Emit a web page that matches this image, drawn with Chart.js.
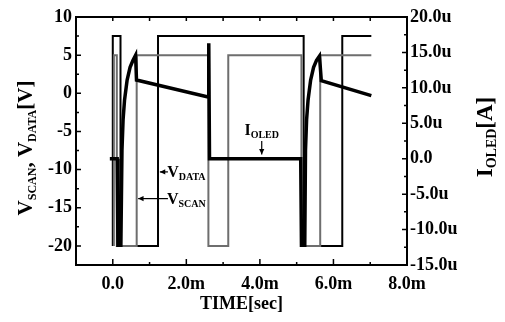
<!DOCTYPE html>
<html>
<head>
<meta charset="utf-8">
<script src="https://cdn.jsdelivr.net/npm/chart.js@4.4.1/dist/chart.umd.min.js"></script>
<style>
  html, body { margin: 0; padding: 0; background: #fff; }
  canvas { display: block; }
</style>
</head>
<body>
<canvas id="waveChart" width="505" height="322"></canvas>
<script>
// time in ms, voltages in V, current in uA
const vdataTime = [0, 0, 0.21, 0.21, 1.23, 1.23, 5.19, 5.19, 6.24, 6.24, 7.03];
const vdataVolt = [-20, 7.5, 7.5, -20, -20, 7.5, 7.5, -20, -20, 7.5, 7.5];

const vscanTime = [0.03, 0.03, 0.11, 0.11, 0.65, 0.65, 2.6, 2.6, 3.14, 3.14, 5.13, 5.13, 5.64, 5.64, 7.03];
const vscanVolt = [-20, 5, 5, -20, -20, 5, 5, -20, -20, 5, 5, -20, -20, 5, 5];

const ioledTime = [-0.08, 0.12, 0.14, 0.22, 0.25, 0.28, 0.32, 0.39, 0.47, 0.55, 0.62, 0.645, 2.59, 2.61, 2.63, 5.11, 5.13, 5.22, 5.24, 5.27, 5.31, 5.38, 5.46, 5.54, 5.62, 5.67, 7.03];
const ioledCurrent = [0.0, 0.0, -12.2, -12.2, 1.2, 5.5, 8.3, 11.1, 12.9, 13.9, 14.6, 11.1, 8.7, 16.3, 0.0, 0.0, -12.2, -12.2, 1.2, 5.5, 8.3, 11.1, 12.9, 13.9, 14.5, 11.0, 8.9];

const xTickValues = [0, 2, 4, 6, 8];
const vTickValues = [-20, -15, -10, -5, 0, 5, 10];
const iTickValues = [-15, -10, -5, 0, 5, 10, 15, 20];

const FONT = 'Liberation Serif';

function toPoints(xs, ys) {
    return xs.map((x, i) => ({ x: x, y: ys[i] }));
}

// draw text made of parts [text, size, shift-down]
function richText(ctx, parts, x, y) {
    let total = 0;
    parts.forEach(p => {
        ctx.font = 'bold ' + p[1] + 'px ' + FONT;
        total += ctx.measureText(p[0]).width;
    });
    let cx = x - total / 2;
    parts.forEach(p => {
        ctx.font = 'bold ' + p[1] + 'px ' + FONT;
        ctx.fillText(p[0], cx, y + p[2]);
        cx += ctx.measureText(p[0]).width;
    });
}

function arrow(ctx, x1, y1, x2, y2) {
    ctx.beginPath();
    ctx.moveTo(x1, y1);
    ctx.lineTo(x2, y2);
    ctx.stroke();
    const ang = Math.atan2(y2 - y1, x2 - x1);
    ctx.beginPath();
    ctx.moveTo(x2, y2);
    ctx.lineTo(x2 - 6 * Math.cos(ang - 0.45), y2 - 6 * Math.sin(ang - 0.45));
    ctx.lineTo(x2 - 6 * Math.cos(ang + 0.45), y2 - 6 * Math.sin(ang + 0.45));
    ctx.closePath();
    ctx.fill();
}

const framePlugin = {
    id: 'frame',
    afterDraw(chart) {
        const { ctx, chartArea: a, scales } = chart;
        const xs = scales.x, yv = scales.yV, yi = scales.yI;
        ctx.save();
        ctx.strokeStyle = '#000';
        ctx.fillStyle = '#000';

        // tick marks, pointing inward
        ctx.lineWidth = 1.5;
        ctx.beginPath();
        for (let v = -1; v <= 8; v++) {
            const px = xs.getPixelForValue(v);
            const major = v >= 0 && v % 2 === 0;
            ctx.moveTo(px, a.bottom);
            ctx.lineTo(px, a.bottom - (major ? 6 : 3));
            ctx.moveTo(px, a.top);
            ctx.lineTo(px, a.top + 4);
        }
        for (let v = -20; v <= 10; v += 2.5) {
            const py = yv.getPixelForValue(v);
            ctx.moveTo(a.left, py);
            ctx.lineTo(a.left + (v % 5 === 0 ? 5 : 3), py);
        }
        for (let v = -15; v <= 20; v += 2.5) {
            const py = yi.getPixelForValue(v);
            ctx.moveTo(a.right, py);
            ctx.lineTo(a.right - (v % 5 === 0 ? 5 : 3), py);
        }
        ctx.stroke();

        ctx.lineWidth = 2;
        ctx.strokeRect(a.left, a.top, a.right - a.left, a.bottom - a.top);

        // axis titles
        ctx.textBaseline = 'alphabetic';
        richText(ctx, [['TIME[sec]', 18, 0]], (a.left + a.right) / 2, 309);

        ctx.save();
        ctx.translate(32, 148);
        ctx.rotate(-Math.PI / 2);
        richText(ctx, [['V', 21, 0], ['SCAN', 12, 4], [', ', 21, 0], ['V', 21, 0], ['DATA', 12, 4], ['[V]', 21, 0]], 0, 0);
        ctx.restore();

        ctx.save();
        ctx.translate(492, 137);
        ctx.rotate(-Math.PI / 2);
        richText(ctx, [['I', 23, 0], ['OLED', 14, 4], ['[A]', 23, 0]], 0, 0);
        ctx.restore();

        // annotations
        ctx.lineWidth = 1.2;
        const ix = xs.getPixelForValue(4.05);
        arrow(ctx, ix, yi.getPixelForValue(2.5), ix, yi.getPixelForValue(0.6));
        richText(ctx, [['I', 16, 0], ['OLED', 10, 3]], xs.getPixelForValue(4.05), yi.getPixelForValue(3.3));

        const tail = xs.getPixelForValue(1.5);
        let py = yv.getPixelForValue(-10.3);
        arrow(ctx, tail, py, xs.getPixelForValue(1.28), py);
        richText(ctx, [['V', 16, 0], ['DATA', 10, 3]], xs.getPixelForValue(2.0), py + 5);
        py = yv.getPixelForValue(-13.8);
        arrow(ctx, tail, py, xs.getPixelForValue(0.69), py);
        richText(ctx, [['V', 16, 0], ['SCAN', 10, 3]], xs.getPixelForValue(2.0), py + 5);

        ctx.restore();
    }
};

const ctx = document.getElementById('waveChart').getContext('2d');
const chart = new Chart(ctx, {
    type: 'line',
    data: {
        datasets: [{
            label: 'IOLED',
            data: toPoints(ioledTime, ioledCurrent),
            yAxisID: 'yI',
            borderColor: '#000',
            borderWidth: 3.5,
            pointRadius: 0,
            tension: 0
        }, {
            label: 'VSCAN',
            data: toPoints(vscanTime, vscanVolt),
            yAxisID: 'yV',
            borderColor: '#6e6e6e',
            borderWidth: 2,
            pointRadius: 0,
            tension: 0
        }, {
            label: 'VDATA',
            data: toPoints(vdataTime, vdataVolt),
            yAxisID: 'yV',
            borderColor: '#000',
            borderWidth: 2,
            pointRadius: 0,
            tension: 0
        }]
    },
    options: {
        responsive: false,
        animation: false,
        devicePixelRatio: 1,
        layout: { padding: { top: 17, left: 0, right: 0, bottom: 0 } },
        plugins: {
            legend: { display: false },
            tooltip: { enabled: false }
        },
        scales: {
            x: {
                type: 'linear',
                min: -1,
                max: 8,
                grid: { display: false, drawTicks: false },
                border: { display: false },
                afterBuildTicks: s => { s.ticks = xTickValues.map(v => ({ value: v })); },
                afterFit: s => { s.height = 57; },
                ticks: {
                    padding: 9,
                    color: '#000',
                    maxRotation: 0,
                    font: { family: FONT, size: 18, weight: 'bold' },
                    callback: v => v === 0 ? '0.0' : v.toFixed(1) + 'm'
                }
            },
            yV: {
                type: 'linear',
                position: 'left',
                min: -22.5,
                max: 10,
                grid: { display: false, drawTicks: false },
                border: { display: false },
                afterBuildTicks: s => { s.ticks = vTickValues.map(v => ({ value: v })); },
                afterFit: s => { s.width = 76; },
                ticks: {
                    padding: 4,
                    color: '#000',
                    font: { family: FONT, size: 18, weight: 'bold' }
                }
            },
            yI: {
                type: 'linear',
                position: 'right',
                min: -15,
                max: 20,
                grid: { display: false, drawTicks: false },
                border: { display: false },
                afterBuildTicks: s => { s.ticks = iTickValues.map(v => ({ value: v })); },
                afterFit: s => { s.width = 98; },
                ticks: {
                    padding: 3,
                    color: '#000',
                    font: { family: FONT, size: 18, weight: 'bold' },
                    callback: v => v === 0 ? '0.0' : v.toFixed(1) + 'u'
                }
            }
        }
    },
    plugins: [framePlugin]
});
</script>
</body>
</html>
